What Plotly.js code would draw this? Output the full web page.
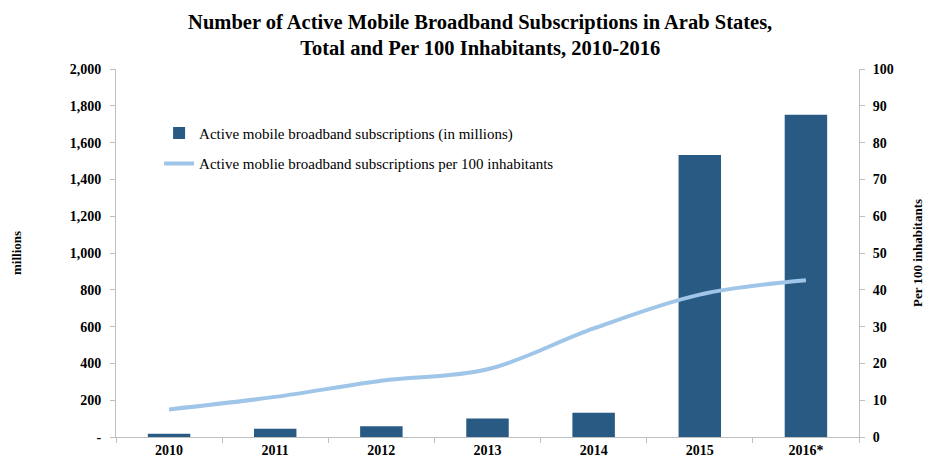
<!DOCTYPE html>
<html>
<head>
<meta charset="utf-8">
<script src="https://cdn.plot.ly/plotly-3.0.1.min.js"></script>
<style>html,body{margin:0;padding:0;background:#fff;}#chart{width:927px;height:462px;}</style>
</head>
<body>
<div id="chart"></div>
<script>
const years = ["2010", "2011", "2012", "2013", "2014", "2015", "2016*"];
const subscriptionsMillions = [18, 45, 58, 100, 132, 1533, 1752];
const per100Inhabitants = [7.5, 10.9, 15.3, 18.4, 29.5, 38.7, 42.6];
const leftTickVals = [0, 200, 400, 600, 800, 1000, 1200, 1400, 1600, 1800, 2000];
const leftTickText = ["-", "200", "400", "600", "800", "1,000", "1,200", "1,400", "1,600", "1,800", "2,000"];
const rightTickVals = [0, 10, 20, 30, 40, 50, 60, 70, 80, 90, 100];

const serif = "Liberation Serif, Times New Roman, serif";
const axisColor = "#bfbfbf";

const traces = [
  {
    type: "bar",
    x: years,
    y: subscriptionsMillions,
    name: "Active mobile broadband subscriptions (in millions)",
    legendgroup: "a",
    marker: {color: "#285a84", line: {width: 0}},
    yaxis: "y"
  },
  {
    type: "scatter",
    mode: "lines",
    x: years,
    y: per100Inhabitants,
    name: "Active moblie broadband subscriptions per 100 inhabitants",
    legendgroup: "b",
    line: {color: "#9fc5e8", width: 4, shape: "spline", smoothing: 1},
    yaxis: "y2"
  }
];

const tickFont = {family: serif, size: 14, color: "#000", weight: "bold"};

const layout = {
  width: 927,
  height: 462,
  margin: {l: 116, r: 68, t: 69, b: 25},
  paper_bgcolor: "#ffffff",
  plot_bgcolor: "#ffffff",
  font: {family: serif, color: "#000000"},
  title: {
    text: "<b>Number of Active Mobile Broadband Subscriptions in Arab States,<br>Total and Per 100 Inhabitants, 2010-2016</b>",
    font: {family: serif, size: 20.5, color: "#000"},
    xref: "container",
    x: 0.518, xanchor: "center",
    yref: "container",
    y: 0.938, yanchor: "middle"
  },
  bargap: 0.6,
  showlegend: true,
  legend: {
    x: 0.058, y: 0.87, xanchor: "left", yanchor: "top",
    bgcolor: "rgba(0,0,0,0)",
    font: {family: serif, size: 15, color: "#000"},
    tracegroupgap: 8,
    itemwidth: 30
  },
  xaxis: {
    type: "category",
    showline: true, linecolor: axisColor, linewidth: 1,
    ticks: "outside", tickson: "boundaries", ticklen: 5, tickcolor: axisColor,
    tickfont: tickFont,
    showgrid: false, zeroline: false
  },
  yaxis: {
    range: [0, 2000],
    tickvals: leftTickVals,
    ticktext: leftTickText,
    showline: true, linecolor: axisColor, linewidth: 1,
    ticks: "outside", ticklen: 5, tickcolor: axisColor,
    ticklabelstandoff: 6,
    tickfont: tickFont,
    showgrid: false, zeroline: false,
    title: {text: "<b>millions</b>", font: {family: serif, size: 13, color: "#000"}, standoff: 45}
  },
  yaxis2: {
    range: [0, 100],
    tickvals: rightTickVals,
    overlaying: "y",
    side: "right",
    showline: true, linecolor: axisColor, linewidth: 1,
    ticks: "outside", ticklen: 5, tickcolor: axisColor,
    ticklabelstandoff: 5,
    tickfont: tickFont,
    showgrid: false, zeroline: false,
    title: {text: "<b>Per 100 inhabitants</b>", font: {family: serif, size: 13, color: "#000"}, standoff: 20}
  }
};

Plotly.newPlot("chart", traces, layout, {displayModeBar: false, staticPlot: true});
</script>
</body>
</html>
